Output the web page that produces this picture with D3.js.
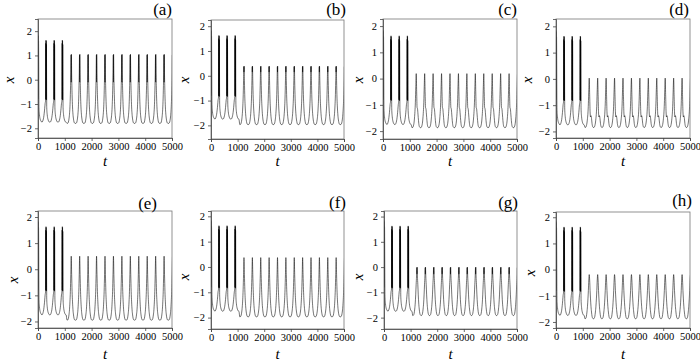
<!DOCTYPE html>
<html><head><meta charset="utf-8">
<script src="https://cdn.jsdelivr.net/npm/d3@7"></script>
<style>
body{margin:0;background:#fff}
svg{display:block;font-family:"Liberation Serif","Times New Roman",serif}
svg text{font-family:"Liberation Serif","Times New Roman",serif !important;fill:#000}
</style>
</head><body>
<script>
// ---------------- data ----------------
const panelLabels = ["(a)","(b)","(c)","(d)","(e)","(f)","(g)","(h)"];
const xTicks = [0,1000,2000,3000,4000,5000];
const yTicks = [-2,-1,0,1,2];
const yDomains = [[-2.4,2.5],[-2.55,2.25],[-2.3,2.27],[-2.25,2.28],[-2.25,2.23],[-2.45,2.21],[-2.45,2.22],[-2.23,2.2]];

// bursting phase (t < 1000): burst centre times
const burstTimes = [0, 290, 595, 900];
// time offsets of one inter-burst cycle, and x values (shared by all panels)
const burstDt   = [-150,-125,-100,-78,-58,-40,-24,-8, 0, 4, 8,12,16,20,24, 36, 55, 80,105,130,150];
const burstVals = [-1.75,-1.73,-1.66,-1.55,-1.38,-1.18,-0.98,-0.86, 1.5,-0.8,1.63,-0.82,1.6,-0.84,1.45, -1.15,-1.45,-1.62,-1.7,-1.74,-1.75];
// initial transient at t = 0
const initDt   = [0, 4, 8, 12, 20, 36, 55, 80, 110, 150];
const initVals = [1.85,-0.7,1.8,-0.8,1.6,-1.15,-1.45,-1.62,-1.7,-1.75];

// tonic phase (t > 1000): spike peak times (last one lies just past the edge)
const spikeTimes = [1240,1555,1870,2185,2500,2815,3130,3445,3760,4075,4390,4705,5020];
// time offsets of one spike cycle: plain spike, and spike with a notch at its tip
const cycleDtPlain = [-157,-130,-105,-85,-65,-48,-32,-16,0,16,32,48,65,85,105,130,157];
const cycleDtTip   = [-157,-130,-105,-85,-65,-48,-32,-16,-5,0,5,16,32,48,65,85,105,130,157];
// x values of one spike cycle, per panel
const cycleA = [-1.8,-1.79,-1.74,-1.62,-1.42,-1.12,-0.6,0.2,1.02,-0.1,1.05,0.2,-0.6,-1.12,-1.42,-1.62,-1.74,-1.79,-1.8];
const cycleB = [-1.97,-1.96,-1.9,-1.78,-1.58,-1.3,-0.9,-0.2,0.37,0.15,0.39,-0.2,-0.9,-1.3,-1.58,-1.78,-1.9,-1.96,-1.97];
const cycleC = [-1.87,-1.86,-1.8,-1.7,-1.5,-1.25,-0.9,-0.3,0.19,-0.5,-1.1,-1.15,-1.35,-1.6,-1.78,-1.85,-1.87];
const cycleD = [-1.85,-1.84,-1.78,-1.68,-1.5,-1.3,-0.95,-0.4,0.03,-0.6,-1.25,-1.45,-1.4,-1.5,-1.7,-1.82,-1.85];
const cycleE = [-1.95,-1.94,-1.88,-1.75,-1.55,-1.25,-0.85,-0.2,0.5,-0.2,-0.85,-1.25,-1.55,-1.75,-1.88,-1.94,-1.95];
const cycleF = [-1.97,-1.96,-1.9,-1.78,-1.58,-1.3,-0.9,-0.3,0.37,-0.3,-0.9,-1.3,-1.58,-1.78,-1.9,-1.96,-1.97];
const cycleG = [-1.92,-1.9,-1.82,-1.66,-1.42,-1.1,-0.7,-0.35,-0.02,-0.28,0.0,-0.35,-0.7,-1.1,-1.42,-1.66,-1.82,-1.9,-1.92];
const cycleH = [-1.88,-1.86,-1.78,-1.62,-1.4,-1.12,-0.8,-0.4,-0.19,-0.4,-0.8,-1.12,-1.4,-1.62,-1.78,-1.86,-1.88];
const cycles = [cycleA,cycleB,cycleC,cycleD,cycleE,cycleF,cycleG,cycleH];
const cycleDts = [cycleDtTip,cycleDtTip,cycleDtPlain,cycleDtPlain,cycleDtPlain,cycleDtPlain,cycleDtTip,cycleDtPlain];

// ---------------- layout ----------------
const W = 700, H = 364;
const layout = [
  {l:38,r:172,t:19,b:138},{l:211,r:344,t:20,b:139},{l:383,r:517,t:19,b:139},{l:556,r:690,t:19,b:138},
  {l:38,r:172,t:211,b:328},{l:211,r:344,t:211,b:329},{l:384,r:517,t:211,b:329},{l:556,r:690,t:212,b:328}
];
const letterPos = [[172,15],[346,15],[517,15],[689,15],[157,209],[346,208],[518,208],[692,206]];
const xLabelPos = [[9,80],[184,80],[358,80],[527,80],[13,280],[184,277],[358,277],[530,273]];
const tLabelY = [166,166,166,166,359,359,359,359];
const serif = '"Liberation Serif","Times New Roman",serif';

const svg = d3.select("body").append("svg").attr("width",W).attr("height",H);
const defs = svg.append("defs");

function seriesFor(i){
  const pts = [];
  initDt.forEach((d,k)=>pts.push([burstTimes[0]+d, initVals[k]]));
  burstTimes.slice(1).forEach(T=>{
    burstDt.forEach((d,k)=>{ if(T+d>pts[pts.length-1][0]) pts.push([T+d, burstVals[k]]); });
  });
  spikeTimes.forEach(T=>{
    cycleDts[i].forEach((d,k)=>{ if(T+d>pts[pts.length-1][0]) pts.push([T+d, cycles[i][k]]); });
  });
  return pts;
}

layout.forEach((L,i)=>{
  const x = d3.scaleLinear().domain([0,5000]).range([L.l,L.r]);
  const y = d3.scaleLinear().domain(yDomains[i]).range([L.b,L.t]);
  const g = svg.append("g");
  defs.append("clipPath").attr("id","clip"+i).append("rect")
    .attr("x",L.l).attr("y",L.t).attr("width",L.r-L.l).attr("height",L.b-L.t);

  const line = d3.line().x(d=>x(d[0])).y(d=>y(d[1])).curve(d3.curveMonotoneX);
  g.append("path").attr("clip-path","url(#clip"+i+")")
    .attr("d", line(seriesFor(i)))
    .attr("fill","none").attr("stroke","#000").attr("stroke-width",0.55);

  g.append("rect").attr("x",L.l).attr("y",L.t).attr("width",L.r-L.l).attr("height",L.b-L.t)
    .attr("fill","none").attr("stroke","#777").attr("stroke-width",0.8);

  const ax = g.append("g").attr("transform",`translate(0,${L.b})`)
    .call(d3.axisBottom(x).tickValues(xTicks).tickSize(3).tickPadding(2).tickFormat(d3.format("d")));
  const ay = g.append("g").attr("transform",`translate(${L.l},0)`)
    .call(d3.axisLeft(y).tickValues(yTicks).tickSize(3).tickPadding(3).tickFormat(d3.format("d")));
  [ax,ay].forEach(a=>{
    a.attr("font-family",serif).attr("font-size",10.5);
    a.select(".domain").attr("stroke","#444").attr("stroke-width",0.8);
    a.selectAll(".tick line").attr("stroke","#444").attr("stroke-width",0.8);
    a.selectAll("text").attr("fill","#000");
  });

  g.append("text").attr("x",letterPos[i][0]).attr("y",letterPos[i][1]).attr("text-anchor","end")
    .attr("font-family",serif).attr("font-size",17).text(panelLabels[i]);
  g.append("text").attr("transform",`translate(${xLabelPos[i][0]},${xLabelPos[i][1]}) rotate(-90)`)
    .attr("text-anchor","middle").attr("dy","0.35em").attr("font-family",serif)
    .attr("font-size",15).attr("font-style","italic").text("x");
  g.append("text").attr("x",(L.l+L.r)/2).attr("y",tLabelY[i]).attr("text-anchor","middle")
    .attr("font-family",serif).attr("font-size",15).attr("font-style","italic").text("t");
});
</script>
</body></html>
